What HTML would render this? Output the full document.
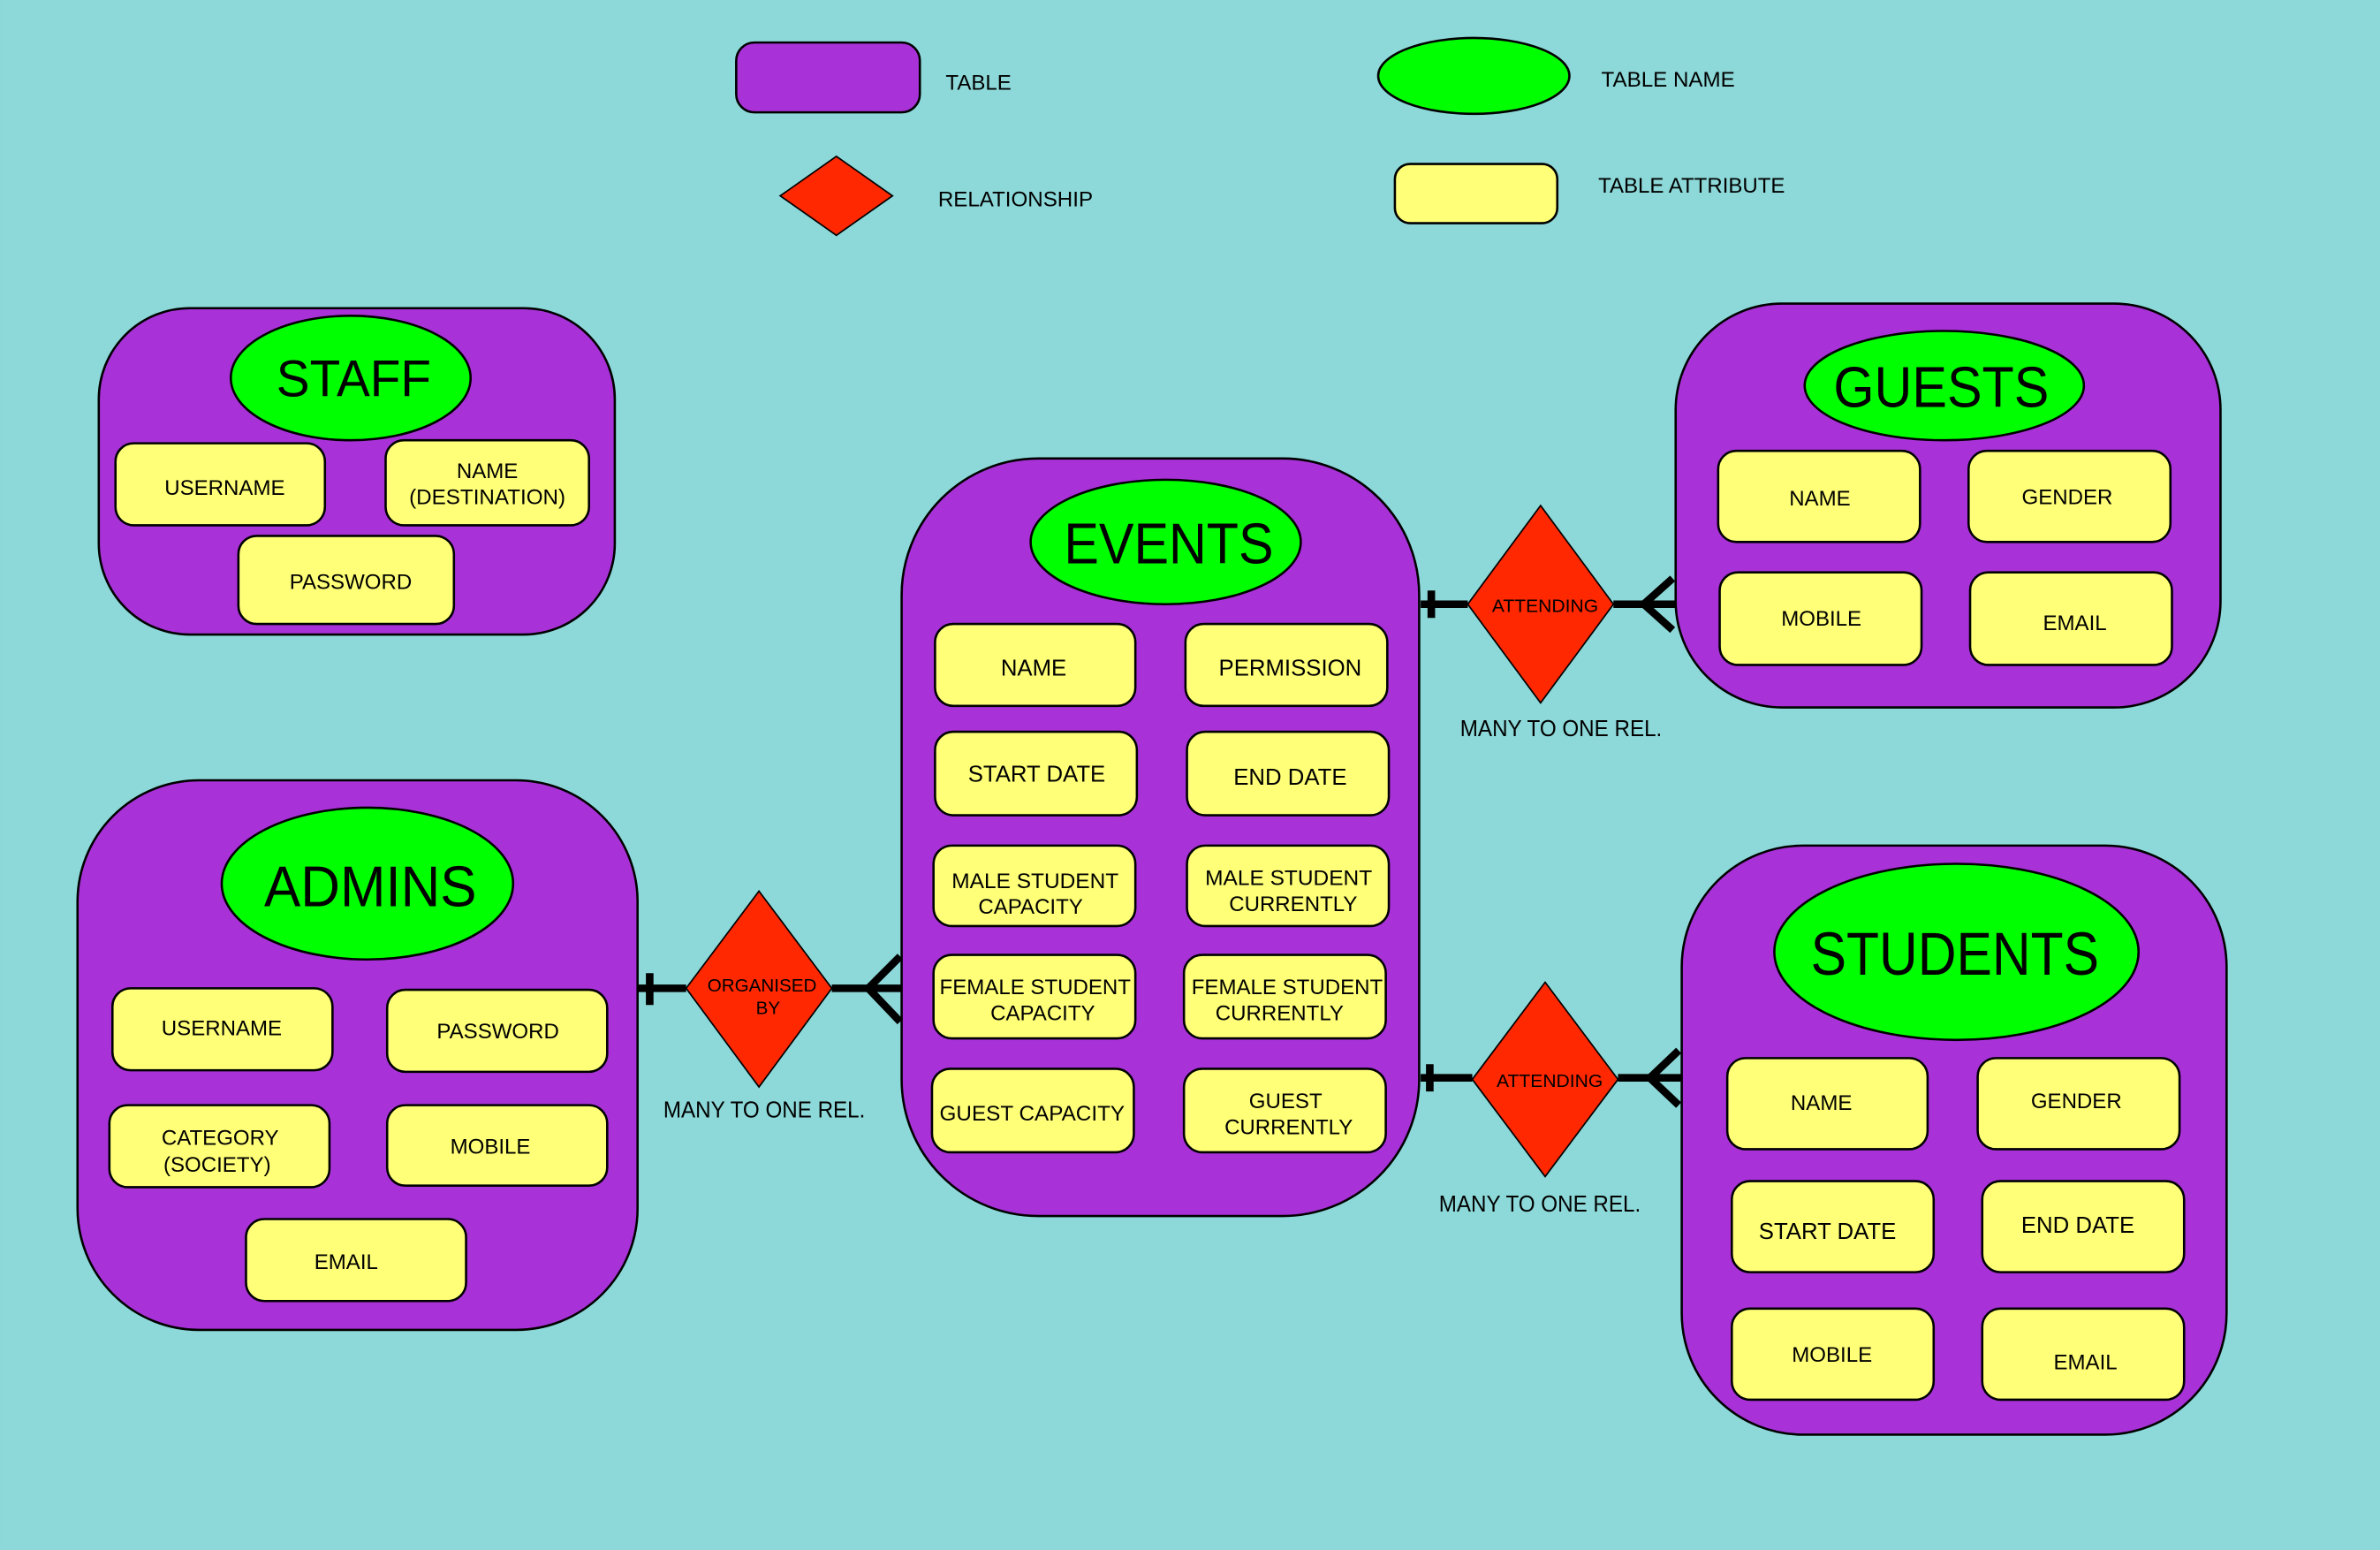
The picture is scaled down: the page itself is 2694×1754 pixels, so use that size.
<!DOCTYPE html>
<html><head><meta charset="utf-8"><style>
html,body{margin:0;padding:0;background:#8dd8d8;}
svg{display:block}
text{font-family:"Liberation Sans",sans-serif;fill:#000;}
.t{fill:#a832d8;stroke:#000;stroke-width:1.5}
.n{fill:#00ff00;stroke:#000;stroke-width:1.5}
.a{fill:#ffff78;stroke:#000;stroke-width:1.5}
.r{fill:#ff2800;stroke:#000;stroke-width:1}
.l{stroke:#000;stroke-width:5;fill:none}
.at{font-size:14px;text-anchor:middle}
.ev{font-size:15px;text-anchor:middle}
.h{text-anchor:middle}
.lg{font-size:14px}
</style></head><body>
<svg width="2694" height="1754" viewBox="0 0 1568 1021" xmlns="http://www.w3.org/2000/svg">
<rect width="1568" height="1021" fill="#8dd8d8"/>
<!-- legend -->
<rect class="t" x="485" y="28" width="121" height="46" rx="12"/>
<text class="lg" x="623" y="59">TABLE</text>
<ellipse class="n" cx="971" cy="50" rx="63" ry="25"/>
<text class="lg" x="1055" y="57" textLength="88" lengthAdjust="spacingAndGlyphs">TABLE NAME</text>
<polygon class="r" points="514,129 551,103 588,129 551,155"/>
<text class="lg" x="618" y="136" textLength="102" lengthAdjust="spacingAndGlyphs">RELATIONSHIP</text>
<rect class="a" x="919" y="108" width="107" height="39" rx="10"/>
<text class="lg" x="1053" y="127" textLength="123" lengthAdjust="spacingAndGlyphs">TABLE ATTRIBUTE</text>

<!-- STAFF -->
<rect class="t" x="65" y="203" width="340" height="215" rx="60"/>
<ellipse class="n" cx="231" cy="249" rx="79" ry="41"/>
<text class="h" x="233" y="261" font-size="34" textLength="102" lengthAdjust="spacingAndGlyphs">STAFF</text>
<rect class="a" x="76" y="292" width="138" height="54" rx="12"/>
<text class="at" x="148" y="326">USERNAME</text>
<rect class="a" x="254" y="290" width="134" height="56" rx="12"/>
<text class="at" x="321" y="315">NAME</text>
<text class="at" x="321" y="332" textLength="103" lengthAdjust="spacingAndGlyphs">(DESTINATION)</text>
<rect class="a" x="157" y="353" width="142" height="58" rx="12"/>
<text class="at" x="231" y="388">PASSWORD</text>

<!-- ADMINS -->
<rect class="t" x="51" y="514" width="369" height="362" rx="80"/>
<ellipse class="n" cx="242" cy="582" rx="96" ry="50"/>
<text class="h" x="244" y="597" font-size="38" textLength="140" lengthAdjust="spacingAndGlyphs">ADMINS</text>
<rect class="a" x="74" y="651" width="145" height="54" rx="12"/>
<text class="at" x="146" y="682">USERNAME</text>
<rect class="a" x="255" y="652" width="145" height="54" rx="12"/>
<text class="at" x="328" y="684">PASSWORD</text>
<rect class="a" x="72" y="728" width="145" height="54" rx="12"/>
<text class="at" x="145" y="754">CATEGORY</text>
<text class="at" x="143" y="772">(SOCIETY)</text>
<rect class="a" x="255" y="728" width="145" height="53" rx="12"/>
<text class="at" x="323" y="760">MOBILE</text>
<rect class="a" x="162" y="803" width="145" height="54" rx="12"/>
<text class="at" x="228" y="836">EMAIL</text>

<!-- EVENTS -->
<rect class="t" x="594" y="302" width="341" height="499" rx="90"/>
<ellipse class="n" cx="768" cy="357" rx="89" ry="41"/>
<text class="h" x="770" y="371" font-size="38" textLength="138" lengthAdjust="spacingAndGlyphs">EVENTS</text>
<rect class="a" x="616" y="411" width="132" height="54" rx="12"/>
<text class="ev" x="681" y="445">NAME</text>
<rect class="a" x="781" y="411" width="133" height="54" rx="12"/>
<text class="ev" x="850" y="445">PERMISSION</text>
<rect class="a" x="616" y="482" width="133" height="55" rx="12"/>
<text class="ev" x="683" y="515">START DATE</text>
<rect class="a" x="782" y="482" width="133" height="55" rx="12"/>
<text class="ev" x="850" y="517">END DATE</text>
<rect class="a" x="615" y="557" width="133" height="53" rx="12"/>
<text class="at" x="682" y="585" textLength="110" lengthAdjust="spacingAndGlyphs">MALE STUDENT</text>
<text class="at" x="679" y="602">CAPACITY</text>
<rect class="a" x="782" y="557" width="133" height="53" rx="12"/>
<text class="at" x="849" y="583" textLength="110" lengthAdjust="spacingAndGlyphs">MALE STUDENT</text>
<text class="at" x="852" y="600">CURRENTLY</text>
<rect class="a" x="615" y="629" width="133" height="55" rx="12"/>
<text class="at" x="682" y="655" textLength="126" lengthAdjust="spacingAndGlyphs">FEMALE STUDENT</text>
<text class="at" x="687" y="672">CAPACITY</text>
<rect class="a" x="780" y="629" width="133" height="55" rx="12"/>
<text class="at" x="848" y="655" textLength="126" lengthAdjust="spacingAndGlyphs">FEMALE STUDENT</text>
<text class="at" x="843" y="672">CURRENTLY</text>
<rect class="a" x="614" y="704" width="133" height="55" rx="12"/>
<text class="at" x="680" y="738" textLength="122" lengthAdjust="spacingAndGlyphs">GUEST CAPACITY</text>
<rect class="a" x="780" y="704" width="133" height="55" rx="12"/>
<text class="at" x="847" y="730">GUEST</text>
<text class="at" x="849" y="747">CURRENTLY</text>

<!-- GUESTS -->
<rect class="t" x="1104" y="200" width="359" height="266" rx="70"/>
<ellipse class="n" cx="1281" cy="254" rx="92" ry="36"/>
<text class="h" x="1279" y="268" font-size="38" textLength="142" lengthAdjust="spacingAndGlyphs">GUESTS</text>
<rect class="a" x="1132" y="297" width="133" height="60" rx="12"/>
<text class="at" x="1199" y="333">NAME</text>
<rect class="a" x="1297" y="297" width="133" height="60" rx="12"/>
<text class="at" x="1362" y="332">GENDER</text>
<rect class="a" x="1133" y="377" width="133" height="61" rx="12"/>
<text class="at" x="1200" y="412">MOBILE</text>
<rect class="a" x="1298" y="377" width="133" height="61" rx="12"/>
<text class="at" x="1367" y="415">EMAIL</text>

<!-- STUDENTS -->
<rect class="t" x="1108" y="557" width="359" height="388" rx="80"/>
<ellipse class="n" cx="1289" cy="627" rx="120" ry="58"/>
<text class="h" x="1288" y="642" font-size="40" textLength="190" lengthAdjust="spacingAndGlyphs">STUDENTS</text>
<rect class="a" x="1138" y="697" width="132" height="60" rx="12"/>
<text class="at" x="1200" y="731">NAME</text>
<rect class="a" x="1303" y="697" width="133" height="60" rx="12"/>
<text class="at" x="1368" y="730">GENDER</text>
<rect class="a" x="1141" y="778" width="133" height="60" rx="12"/>
<text class="ev" x="1204" y="816">START DATE</text>
<rect class="a" x="1306" y="778" width="133" height="60" rx="12"/>
<text class="ev" x="1369" y="812">END DATE</text>
<rect class="a" x="1141" y="862" width="133" height="60" rx="12"/>
<text class="at" x="1207" y="897">MOBILE</text>
<rect class="a" x="1306" y="862" width="133" height="60" rx="12"/>
<text class="at" x="1374" y="902">EMAIL</text>

<!-- connector: attending 1 -->
<path class="l" d="M936,398 H967 M943,389 V407 M1063,398 H1104 M1083,398 L1102,381 M1083,398 L1102,415"/>
<polygon class="r" points="967,398 1015,333 1063,398 1015,463"/>
<text x="1018" y="403" font-size="12" text-anchor="middle" textLength="70" lengthAdjust="spacingAndGlyphs">ATTENDING</text>
<text x="962" y="485" font-size="15" textLength="133" lengthAdjust="spacingAndGlyphs">MANY TO ONE REL.</text>

<!-- connector: attending 2 -->
<path class="l" d="M936,710 H970 M942,701 V719 M1066,710 H1108 M1087,710 L1106,692 M1087,710 L1106,728"/>
<polygon class="r" points="970,711 1018,647 1066,711 1018,775"/>
<text x="1021" y="716" font-size="12" text-anchor="middle" textLength="70" lengthAdjust="spacingAndGlyphs">ATTENDING</text>
<text x="948" y="798" font-size="15" textLength="133" lengthAdjust="spacingAndGlyphs">MANY TO ONE REL.</text>

<!-- connector: organised -->
<path class="l" d="M420,651 H452 M428,641 V662 M548,651 H594 M572,651 L593,630 M572,651 L593,673"/>
<polygon class="r" points="452,651 500,587 548,651 500,716"/>
<text x="502" y="653" font-size="12" text-anchor="middle" textLength="72" lengthAdjust="spacingAndGlyphs">ORGANISED</text>
<text x="506" y="668" font-size="12" text-anchor="middle">BY</text>
<text x="437" y="736" font-size="15" textLength="133" lengthAdjust="spacingAndGlyphs">MANY TO ONE REL.</text>
</svg>
</body></html>
